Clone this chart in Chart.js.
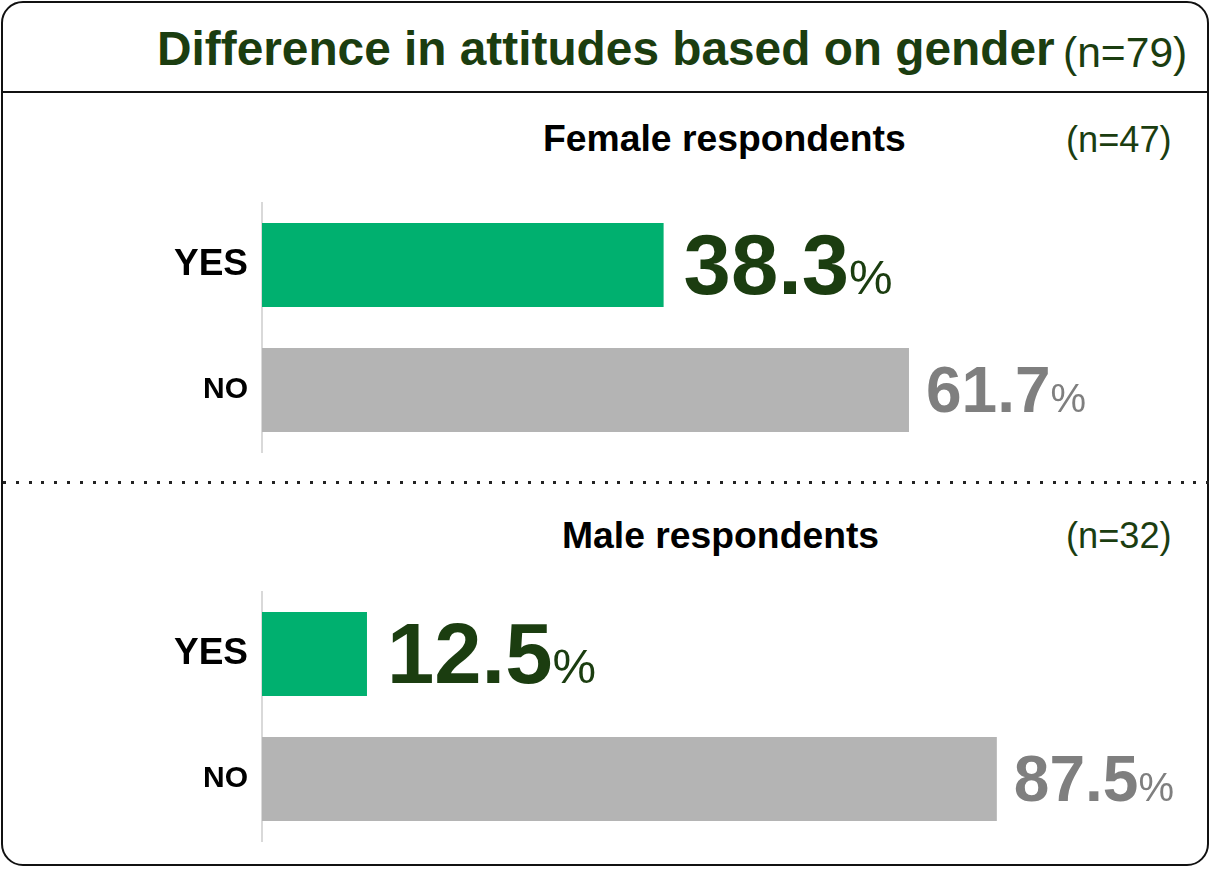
<!DOCTYPE html>
<html>
<head>
<meta charset="utf-8">
<script src="https://cdn.jsdelivr.net/npm/chart.js@4.4.1/dist/chart.umd.min.js"></script>
<style>
html,body{margin:0;padding:0;background:#fff;}
body{width:1211px;height:869px;position:relative;overflow:hidden;font-family:"Liberation Sans",Arial,Helvetica,sans-serif;}
#frame{position:absolute;left:1px;top:1px;width:1204px;height:861px;border:2px solid #111;border-radius:22px;box-sizing:content-box;}
#topline{position:absolute;left:1px;top:91px;width:1208px;height:2px;background:#111;}
#dots{position:absolute;left:3px;top:481px;width:1206px;height:3px;background:repeating-linear-gradient(to right,#222 0px,#222 3px,transparent 3px,transparent 12.8px);}
.t{position:absolute;white-space:nowrap;margin:0;}
#title{left:157px;top:25px;font-size:47.8px;line-height:47.8px;font-weight:bold;color:#1b3d10;}
#titleN{left:1063px;top:31px;font-size:42.6px;line-height:42.6px;color:#1b3d10;}
.hdr{font-size:37.3px;line-height:37.3px;font-weight:bold;color:#000;}
.nn{font-size:36.2px;line-height:36.2px;color:#1b3d10;}
canvas{position:absolute;left:0;top:0;}
</style>
</head>
<body>
<div id="frame"></div>
<div id="topline"></div>
<div id="dots"></div>
<div class="t" id="title">Difference in attitudes based on gender</div>
<div class="t" id="titleN">(n=79)</div>
<div class="t hdr" style="left:543px;top:120px;">Female respondents</div>
<div class="t nn" style="left:1066px;top:122px;">(n=47)</div>
<div class="t hdr" style="left:562px;top:517px;">Male respondents</div>
<div class="t nn" style="left:1066px;top:518px;">(n=32)</div>
<div style="position:absolute;left:0;top:100px;width:1211px;height:370px;"><canvas id="cF" width="1211" height="370"></canvas></div>
<div style="position:absolute;left:0;top:490px;width:1211px;height:370px;"><canvas id="cM" width="1211" height="370"></canvas></div>
<script>
// ---- data ----
const categories = ["YES", "NO"];
const femaleValues = [38.3, 61.7];
const maleValues = [12.5, 87.5];
const femaleAxisMax = 88.5;
const maleAxisMax = 110.5;
const barColors = ["#00b06f", "#b4b4b4"];

const FONT = '"Liberation Sans", Arial, Helvetica, sans-serif';

const valueLabelPlugin = {
  id: 'valueLabels',
  afterDatasetsDraw(chart) {
    const ctx = chart.ctx;
    const meta = chart.getDatasetMeta(0);
    const vals = chart.data.datasets[0].data;
    meta.data.forEach((el, i) => {
      const isYes = i === 0;
      const numFont = isYes ? 'bold 85px ' + FONT : 'bold 64px ' + FONT;
      const pctFont = isYes ? '49px ' + FONT : '40px ' + FONT;
      const color = isYes ? '#1b3d10' : '#7f7f7f';
      const gap = isYes ? 20 : 17;
      const base = el.y + (isYes ? 29 : 22);
      const txt = vals[i].toFixed(1);
      ctx.save();
      ctx.fillStyle = color;
      ctx.textBaseline = 'alphabetic';
      ctx.textAlign = 'left';
      ctx.font = numFont;
      const x0 = el.x + gap;
      ctx.fillText(txt, x0, base);
      const w = ctx.measureText(txt).width;
      ctx.font = pctFont;
      ctx.fillText('%', x0 + w, base);
      ctx.restore();
    });
  }
};

function makeChart(id, values, xmax, padTop, padBottom) {
  return new Chart(document.getElementById(id), {
    type: 'bar',
    data: {
      labels: categories,
      datasets: [{
        data: values,
        backgroundColor: barColors,
        borderWidth: 0,
        barPercentage: 0.672,
        categoryPercentage: 1.0
      }]
    },
    options: {
      indexAxis: 'y',
      responsive: false,
      animation: false,
      events: [],
      layout: { padding: { top: padTop, bottom: padBottom, left: 0, right: 21 } },
      plugins: { legend: { display: false }, tooltip: { enabled: false }, title: { display: false } },
      scales: {
        x: { display: false, min: 0, max: xmax },
        y: {
          afterFit(scale) { scale.width = 262; scale.paddingTop = 0; scale.paddingBottom = 0; },
          grid: { display: true, drawOnChartArea: false, drawTicks: false, color: 'rgba(0,0,0,0)' },
          border: { display: true, color: '#d9d9d9', width: 2 },
          ticks: {
            padding: 14,
            color: '#000',
            font: (c) => c.index === 0
              ? { family: FONT, size: 37, weight: 'bold' }
              : { family: FONT, size: 30, weight: 'bold' }
          }
        }
      }
    },
    plugins: [valueLabelPlugin]
  });
}

makeChart('cF', femaleValues, femaleAxisMax, 102.5, 17.5);
makeChart('cM', maleValues, maleAxisMax, 101.5, 18.5);
</script>
</body>
</html>
